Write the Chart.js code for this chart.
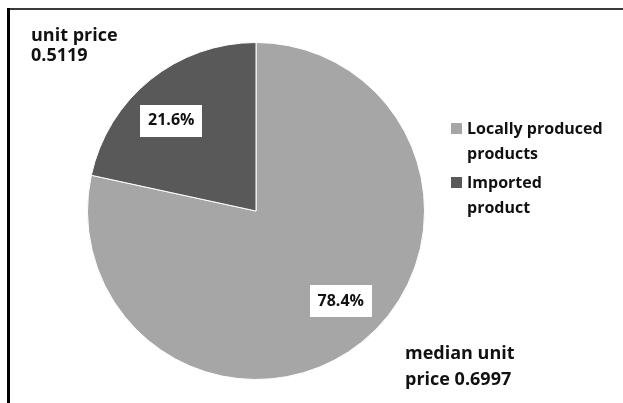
<!DOCTYPE html>
<html>
<head>
<meta charset="utf-8">
<script src="https://cdn.jsdelivr.net/npm/chart.js@4/dist/chart.umd.min.js"></script>
<style>
  html, body { margin: 0; padding: 0; background: #ffffff; }
  #wrap { position: relative; width: 623px; height: 403px; }
  canvas { display: block; }
</style>
</head>
<body>
<div id="wrap"><canvas id="c" width="623" height="403"></canvas></div>
<script>
// Share of products by origin, with median unit prices
const categories = ['Locally produced products', 'Imported product'];
const legendLines = [['Locally produced', 'products'], ['Imported', 'product']];
const shares = [78.4, 21.6];
const sliceColors = ['#a6a6a6', '#595959'];
const importedPriceLines = ['unit price', '0.5119'];
const localPriceLines = ['median unit', 'price 0.6997'];

const FONT = '"Open Sans", Lato, sans-serif';

// Frame around the figure (left and top edges)
const framePlugin = {
  id: 'frame',
  beforeDraw(chart) {
    const ctx = chart.ctx;
    ctx.save();
    ctx.fillStyle = '#ffffff';
    ctx.fillRect(0, 0, chart.width, chart.height);
    ctx.strokeStyle = '#3a3a3a';
    ctx.lineWidth = 2;
    ctx.beginPath();
    ctx.moveTo(8, 9);
    ctx.lineTo(chart.width, 9);
    ctx.stroke();
    ctx.strokeStyle = '#000000';
    ctx.lineWidth = 3;
    ctx.beginPath();
    ctx.moveTo(8.5, 8);
    ctx.lineTo(8.5, chart.height);
    ctx.stroke();
    ctx.restore();
  }
};

// Percentage labels in white boxes inside each slice
const sliceLabelPlugin = {
  id: 'sliceLabels',
  afterDatasetsDraw(chart) {
    const ctx = chart.ctx;
    const meta = chart.getDatasetMeta(0);
    const values = chart.data.datasets[0].data;
    ctx.save();
    ctx.font = 'bold 16px ' + FONT;
    ctx.textAlign = 'center';
    ctx.textBaseline = 'middle';
    meta.data.forEach((arc, i) => {
      const p = arc.getProps(['x', 'y', 'startAngle', 'endAngle', 'outerRadius'], true);
      const mid = (p.startAngle + p.endAngle) / 2 - 0.075;
      const r = p.outerRadius * 0.735;
      const cx = p.x + Math.cos(mid) * r;
      const cy = p.y + Math.sin(mid) * r;
      const w = 62, h = 32;
      ctx.fillStyle = '#ffffff';
      ctx.fillRect(Math.round(cx - w / 2), Math.round(cy - h / 2), w, h);
      ctx.fillStyle = '#111111';
      ctx.fillText(values[i].toFixed(1) + '%', cx, cy);
    });
    ctx.restore();
  }
};

// Legend on the right with wrapped item names
const sideLegendPlugin = {
  id: 'sideLegend',
  afterDraw(chart) {
    const ctx = chart.ctx;
    const colors = chart.data.datasets[0].backgroundColor;
    ctx.save();
    ctx.font = 'bold 16px ' + FONT;
    ctx.textAlign = 'left';
    ctx.textBaseline = 'alphabetic';
    const x0 = 451, firstBaseline = 134, lineGap = 25, itemGap = 54;
    legendLines.forEach((lines, i) => {
      const base = firstBaseline + i * itemGap;
      ctx.fillStyle = colors[i];
      ctx.fillRect(x0, base - 11, 11, 11);
      ctx.fillStyle = '#111111';
      lines.forEach((t, j) => ctx.fillText(t, x0 + 16, base + j * lineGap));
    });
    ctx.restore();
  }
};

// Price annotations near each slice
const priceNotePlugin = {
  id: 'priceNotes',
  afterDraw(chart) {
    const ctx = chart.ctx;
    ctx.save();
    ctx.font = 'bold 18px ' + FONT;
    ctx.fillStyle = '#111111';
    ctx.textAlign = 'left';
    ctx.textBaseline = 'alphabetic';
    importedPriceLines.forEach((t, j) => ctx.fillText(t, 31, 41 + j * 20));
    localPriceLines.forEach((t, j) => ctx.fillText(t, 405, 359 + j * 26));
    ctx.restore();
  }
};

new Chart(document.getElementById('c'), {
  type: 'pie',
  data: {
    labels: categories,
    datasets: [{
      data: shares,
      backgroundColor: sliceColors,
      borderColor: '#ffffff',
      borderWidth: 1
    }]
  },
  options: {
    responsive: false,
    animation: false,
    layout: { padding: { left: 87, right: 198, top: 42, bottom: 23 } },
    plugins: {
      legend: { display: false },
      tooltip: { enabled: false },
      title: { display: false }
    }
  },
  plugins: [framePlugin, sliceLabelPlugin, sideLegendPlugin, priceNotePlugin]
});
</script>
</body>
</html>
